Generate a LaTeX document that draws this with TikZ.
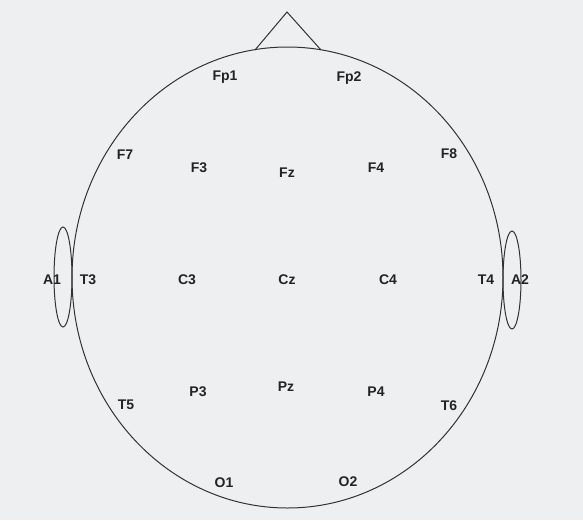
\documentclass[tikz,border=0pt]{standalone}
\usepackage{fontspec}
\setmainfont{Liberation Sans}
\usetikzlibrary{positioning}
\definecolor{fundo}{RGB}{238,239,241}
\definecolor{traco}{RGB}{50,50,50}
\definecolor{rotulo}{RGB}{35,35,35}
\tikzset{
  eletrodo/.style={
    inner sep=0pt, text height=10pt, text depth=0pt,
    font=\fontsize{14}{16}\selectfont\bfseries, text=rotulo
  },
  contorno/.style={draw=traco, line width=1pt},
}
\begin{document}
\begin{tikzpicture}[x=1pt, y=-1pt]
        \fill[fundo] (0,0) rectangle (583,520);
        \useasboundingbox (0,0) rectangle (583,520);

        % cabeca, nariz e orelhas
        \draw[contorno] (287.5,277.5) ellipse [x radius=215.5, y radius=230.5];
        \draw[contorno] (255,50) -- (287,12) -- (321,50);
        \draw[contorno] (63,277) ellipse [x radius=9, y radius=50];
        \draw[contorno] (512,280) ellipse [x radius=9, y radius=49];

        % eletrodos (sistema 10-20)
        \node[eletrodo] (fp1) at (225,75) {Fp1};
        \node[eletrodo] (fp2) at (349,76) {Fp2};

        \node[eletrodo] (f7) at (125,154) {F7};
        \node[eletrodo] (f3) at (199,167) {F3};
        \node[eletrodo] (fz) at (287,172) {Fz};
        \node[eletrodo] (f4) at (376,167) {F4};
        \node[eletrodo] (f8) at (449,153) {F8};

        \node[eletrodo] (a1) at (52,279) {A1};
        \node[eletrodo] (t3) at (88,279) {T3};
        \node[eletrodo] (c3) at (187,279) {C3};
        \node[eletrodo] (cz) at (287,279) {Cz};
        \node[eletrodo] (c4) at (388,279) {C4};
        \node[eletrodo] (t4) at (486,279) {T4};
        \node[eletrodo] (a2) at (520,279) {A2};

        \node[eletrodo] (t5) at (126,404) {T5};
        \node[eletrodo] (p3) at (198,391) {P3};
        \node[eletrodo] (pz) at (286,386) {Pz};
        \node[eletrodo] (p4) at (376,391) {P4};
        \node[eletrodo] (t6) at (449,405) {T6};

        \node[eletrodo] (o1) at (224,482) {O1};
        \node[eletrodo] (o2) at (348,481) {O2};
      \end{tikzpicture}
\end{document}
